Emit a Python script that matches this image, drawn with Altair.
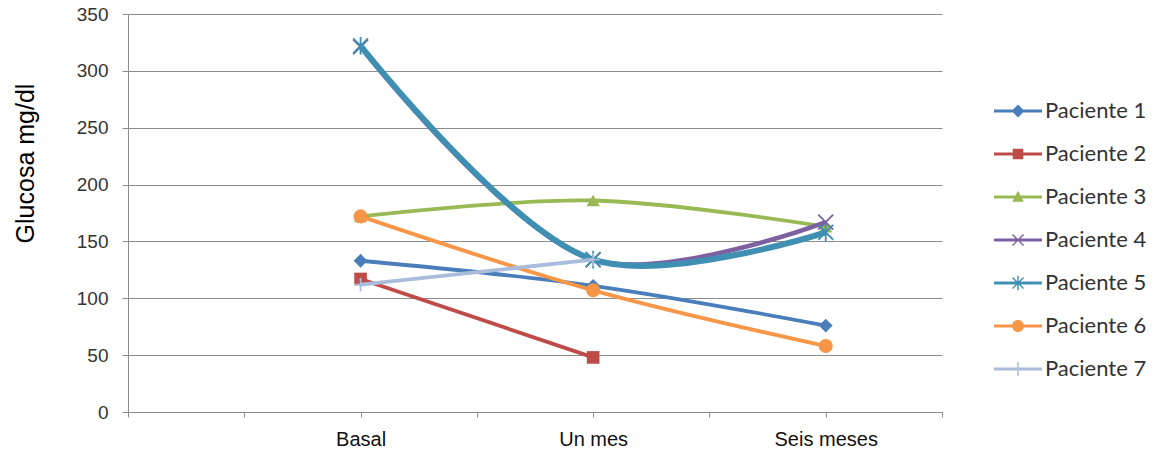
import altair as alt
import pandas as pd

# ---- data ----
periodos = ["Basal", "Un mes", "Seis meses"]
eje_x = [" ", "  ", "Basal", "   ", "Un mes", "    ", "Seis meses", "     "]
pacientes = ["Paciente 1", "Paciente 2", "Paciente 3", "Paciente 4",
             "Paciente 5", "Paciente 6", "Paciente 7"]
p1 = [133, 111, 76]
p2 = [117, 48, None]
p3 = [172, 186, 163]
p4 = [321, 134, 167]
p5 = [322, 134, 158]
p6 = [172, 107, 58]
p7 = [112, 134, None]
valores = [p1, p2, p3, p4, p5, p6, p7]
y_ticks = [0, 50, 100, 150, 200, 250, 300, 350]

# ---- styles ----
colores = ["#4A7EBB", "#BE4B48", "#98B954", "#7D60A0", "#3F8FB2", "#F79646", "#A9BCDB"]
grosor = [3.8, 3.8, 3.8, 4.5, 6, 3.8, 3.8]
X_PATH = "M-1,-1L1,1M1,-1L-1,1"
AST_PATH = "M-1,-1L1,1M1,-1L-1,1M0,-1.2L0,1.2"
PLUS_PATH = "M0,-1L0,1M-1,0L1,0"
marcadores = [("diamond", True, 190), ("square", True, 160), ("triangle-up", True, 180),
              (X_PATH, False, 220), (AST_PATH, False, 220), ("circle", True, 200),
              (PLUS_PATH, False, 170)]

BAR = "M-1,-0.06L1,-0.06L1,0.06L-1,0.06Z"
VBAR = "M-0.03,-0.3L0.03,-0.3L0.03,0.3L-0.03,0.3Z"
XARMS = "M-0.25,-0.21L-0.21,-0.25L0.25,0.21L0.21,0.25ZM0.21,-0.25L0.25,-0.21L-0.21,0.25L-0.25,0.21Z"
leyenda_paths = [
    BAR + "M0,-0.27L0.27,0L0,0.27L-0.27,0Z",
    BAR + "M-0.22,-0.22L0.22,-0.22L0.22,0.22L-0.22,0.22Z",
    BAR + "M0,-0.26L0.24,0.2L-0.24,0.2Z",
    BAR + XARMS,
    BAR + XARMS + VBAR,
    BAR + "M-0.25,0A0.25,0.25 0 1,1 0.25,0A0.25,0.25 0 1,1 -0.25,0Z",
    BAR + VBAR,
]

GRAY = "#8c8c8c"

x_enc = alt.X("Periodo:N", sort=eje_x,
              scale=alt.Scale(domain=eje_x, type="point", padding=0),
              axis=alt.Axis(title=None, grid=False, labelAngle=0, labelFont="Liberation Sans",
                            labelFontSize=20, labelColor="#111111", labelPadding=12,
                            tickSize=5, tickColor=GRAY, domainColor=GRAY, labelOverlap=False))
y_enc = alt.Y("Glucosa:Q",
              scale=alt.Scale(domain=[0, 350], nice=False),
              axis=alt.Axis(values=y_ticks, title="Glucosa mg/dl", grid=True, gridColor=GRAY,
                            domainColor=GRAY, tickColor=GRAY, tickSize=6,
                            labelFont="Liberation Sans", labelFontSize=19, labelColor="#333333",
                            labelPadding=14, titleFont="Liberation Sans", titleFontSize=25,
                            titleFontWeight="normal", titleColor="#000000",
                            titleX=-103, titleY=149, titleAngle=270,
                            titleAlign="center", titleBaseline="middle"))

layers = []
filas = []
for nombre, vals, col, w, (shp, fil, sz) in zip(pacientes, valores, colores, grosor, marcadores):
    df = pd.DataFrame({"Periodo": periodos, "Glucosa": vals, "Paciente": nombre}).dropna()
    filas.append(df)
    layers.append(alt.Chart(df).mark_line(interpolate="catmull-rom", color=col,
                                           strokeWidth=w).encode(x=x_enc, y=y_enc))
    if fil:
        pts = alt.Chart(df).mark_point(shape=shp, filled=True, color=col, size=sz, opacity=1)
    else:
        pts = alt.Chart(df).mark_point(shape=shp, filled=False, color=col, size=sz,
                                       strokeWidth=1.8, opacity=1)
    layers.append(pts.encode(x=x_enc, y=y_enc))

todos = pd.concat(filas, ignore_index=True)
leg = alt.Legend(title=None, orient="none", legendX=866, legendY=73,
                 symbolSize=2304, symbolStrokeWidth=0, labelFont="Lato",
                 labelFontSize=22, labelColor="#333333", labelOffset=3,
                 rowPadding=8, symbolOpacity=1)
leyenda = alt.Chart(todos).mark_point(filled=True, opacity=0).encode(
    x=x_enc, y=y_enc,
    color=alt.Color("Paciente:N", scale=alt.Scale(domain=pacientes, range=colores), legend=leg),
    shape=alt.Shape("Paciente:N", scale=alt.Scale(domain=pacientes, range=leyenda_paths), legend=leg),
)
layers.append(leyenda)

chart = alt.layer(*layers).properties(
    width=814, height=398,
    autosize=alt.AutoSizeParams(type="none"),
    padding={"left": 128, "top": 14, "right": 213, "bottom": 45},
    background="white",
).configure_view(stroke=None)

chart.save("out.html", embed_options={"renderer": "svg", "actions": False})
